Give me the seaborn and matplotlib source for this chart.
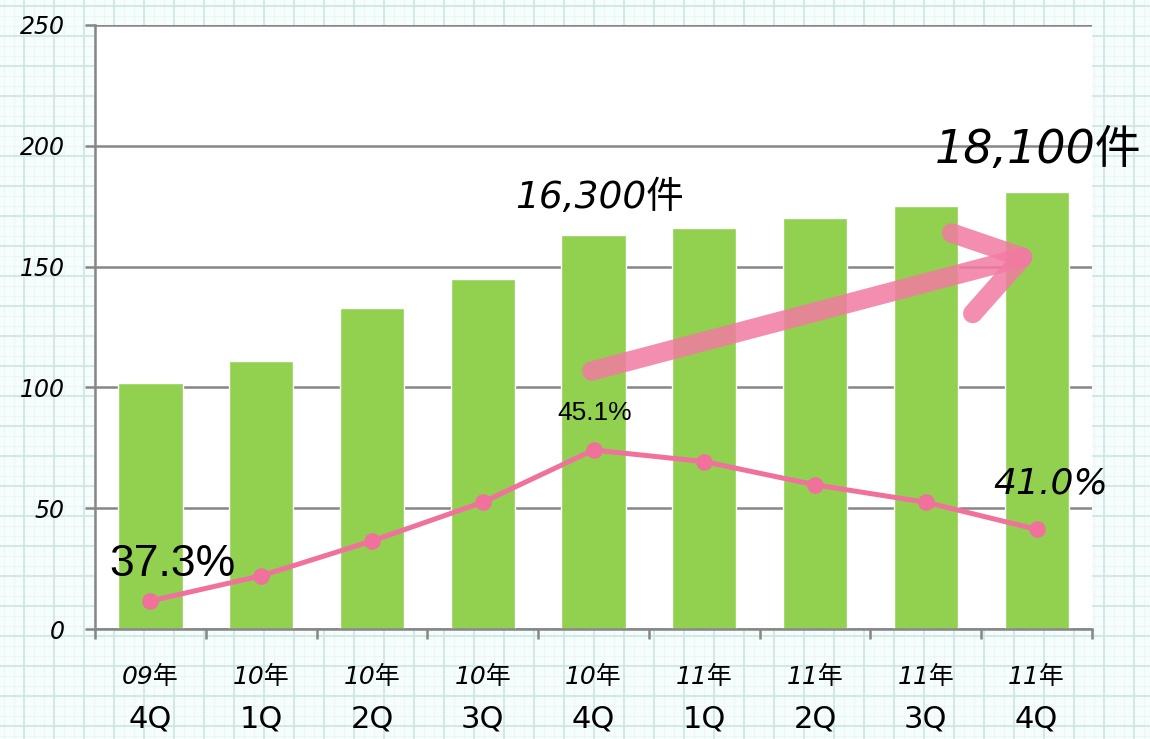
import matplotlib.pyplot as plt
import numpy as np
import pandas as pd
import seaborn as sns

# data
years = ["09年", "10年", "10年", "10年", "10年", "11年", "11年", "11年", "11年"]
quarters = ["4Q", "1Q", "2Q", "3Q", "4Q", "1Q", "2Q", "3Q", "4Q"]
counts = [102, 111, 133, 145, 163, 166, 170, 175, 181]  # hundreds of cases
ratio = [37.3, 38.6, 40.4, 42.4, 45.1, 44.5, 43.3, 42.4, 41.0]  # %

GREEN = "#92d050"
PINK = "#f0719c"
GRAY = "#868686"
HAND = ["DejaVu Sans", "Noto Sans CJK JP"]

sns.set_theme(style="white")
plt.rcParams["font.family"] = HAND
plt.rcParams["text.color"] = "black"
plt.rcParams["xtick.color"] = "black"
plt.rcParams["ytick.color"] = "black"

df = pd.DataFrame({"pos": np.arange(len(counts)), "count": counts, "ratio": ratio})

fig = plt.figure(figsize=(11.5, 7.39), dpi=100)
fig.patch.set_facecolor("#f6fdfd")

# grid paper background
bg = fig.add_axes([0, 0, 1, 1], zorder=-5)
bg.set_xlim(0, 1150)
bg.set_ylim(739, 0)
bg.axis("off")
for v in np.arange(4, 1150, 10):
    bg.axvline(v, color="#edf6f5", lw=0.8)
for h in np.arange(6, 739, 10):
    bg.axhline(h, color="#edf6f5", lw=0.8)
for v in np.arange(24, 1150, 30):
    bg.axvline(v, color="#cfe7e3", lw=1.3)
for h in np.arange(6, 739, 30):
    bg.axhline(h, color="#cfe7e3", lw=1.3)

ax = fig.add_axes([0.0826, 0.1488, 0.8670, 0.8174])
ax.set_facecolor("white")
ax.patch.set_zorder(-1)

sns.barplot(data=df, x="pos", y="count", color=GREEN, saturation=1,
            width=0.58, ax=ax, zorder=2)
ax.set_xlim(-0.5, 8.48)
ax.set_ylim(0, 250)
ax.set_yticks([0, 50, 100, 150, 200, 250])
ax.set_xlabel("")
ax.set_ylabel("")
ax.yaxis.grid(True, color=GRAY, lw=1.8)
ax.set_axisbelow(True)
for s in ["top", "right"]:
    ax.spines[s].set_visible(False)
for s in ["left", "bottom"]:
    ax.spines[s].set_color(GRAY)
    ax.spines[s].set_linewidth(1.8)

ax.tick_params(axis="y", left=True, length=7, width=1.8, color=GRAY, pad=15,
               labelsize=17, labelcolor="black")
for t in ax.get_yticklabels():
    t.set_fontstyle("italic")

# tick marks at category boundaries, labels at centres
ax.set_xticks(df["pos"], years)
ax.tick_params(axis="x", which="major", length=0, pad=26, labelsize=18,
               labelcolor="black")
for t in ax.get_xticklabels():
    t.set_fontstyle("italic")
ax.set_xticks(np.arange(-0.5, len(counts)), minor=True)
ax.tick_params(axis="x", which="minor", bottom=True, length=7, width=1.8,
               color=GRAY)

sec = ax.secondary_xaxis("bottom")
sec.set_xticks(df["pos"], quarters)
sec.tick_params(length=0, pad=54, labelsize=22, labelcolor="black")
sec.spines["bottom"].set_visible(False)

# ratio line on a hidden second scale
ax2 = ax.twinx()
sns.lineplot(data=df, x="pos", y="ratio", color=PINK, lw=3.6, marker="o",
             markersize=12, markeredgewidth=0, ax=ax2, zorder=4)
ax2.set_ylim(35.85, 67.06)
ax2.axis("off")

# labels
ax2.annotate(f"{ratio[0]}%", (0, ratio[0]), xytext=(16, 26),
             textcoords="offset points", ha="center", va="center",
             fontsize=32, family="Liberation Sans", color="black")
ax2.annotate(f"{ratio[4]}%", (4, ratio[4]), xytext=(1, 27),
             textcoords="offset points", ha="center", va="center",
             fontsize=19, family="Liberation Sans", color="black")
ax2.annotate(f"{ratio[-1]}%", (8, ratio[-1]), xytext=(10, 33),
             textcoords="offset points", ha="center", va="center",
             fontsize=26, fontstyle="italic", color="black")

ax.annotate(f"{counts[4] * 100:,}件", (4, counts[4]), xytext=(4, 27),
            textcoords="offset points", ha="center", va="center",
            fontsize=27, fontstyle="italic", color="black", zorder=6)
ax.annotate(f"{counts[-1] * 100:,}件", (8, counts[-1]), xytext=(1, 30),
            textcoords="offset points", ha="center", va="center",
            fontsize=33, fontstyle="italic", color="black", zorder=6,
            annotation_clip=False)

# growth arrow
ax.annotate("", xy=(8.05, 156), xytext=(3.96, 106.5),
            arrowprops=dict(arrowstyle="->,head_length=0.45,head_width=0.3",
                            mutation_scale=100, lw=14, color="#f37aa2",
                            alpha=0.85, capstyle="round", joinstyle="round"),
            zorder=5)

fig.savefig("out.png", dpi=100, facecolor=fig.get_facecolor())
